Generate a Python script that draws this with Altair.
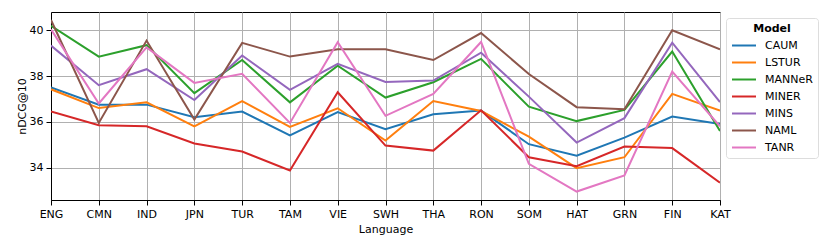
import altair as alt
import pandas as pd

languages = ["ENG", "CMN", "IND", "JPN", "TUR", "TAM", "VIE", "SWH", "THA", "RON", "SOM", "HAT", "GRN", "FIN", "KAT"]
models = ["CAUM", "LSTUR", "MANNeR", "MINER", "MINS", "NAML", "TANR"]
colors = ["#1f77b4", "#ff7f0e", "#2ca02c", "#d62728", "#9467bd", "#8c564b", "#e377c2"]

caum   = [37.50, 36.75, 36.75, 36.20, 36.45, 35.40, 36.42, 35.68, 36.33, 36.49, 35.02, 34.52, 35.31, 36.23, 35.90]
lstur  = [37.42, 36.60, 36.85, 35.80, 36.90, 35.78, 36.59, 35.18, 36.91, 36.47, 35.35, 33.97, 34.45, 37.22, 36.49]
manner = [40.20, 38.85, 39.35, 37.25, 38.70, 36.85, 38.45, 37.06, 37.73, 38.75, 36.66, 36.03, 36.52, 39.07, 35.60]
miner  = [36.45, 35.85, 35.80, 35.05, 34.70, 33.87, 37.29, 34.96, 34.74, 36.50, 34.45, 34.06, 34.92, 34.85, 33.34]
mins   = [39.33, 37.60, 38.30, 36.95, 38.90, 37.40, 38.53, 37.74, 37.80, 39.02, 37.10, 35.09, 36.16, 39.46, 36.86]
naml   = [40.45, 35.95, 39.55, 36.10, 39.45, 38.85, 39.17, 39.17, 38.70, 39.88, 38.09, 36.64, 36.55, 40.00, 39.17]
tanr   = [40.04, 36.80, 39.25, 37.70, 38.10, 35.95, 39.48, 36.26, 37.22, 39.49, 34.16, 32.95, 33.65, 38.19, 35.80]

series = [caum, lstur, manner, miner, mins, naml, tanr]
rows = []
for m, vals in zip(models, series):
    for lang, v in zip(languages, vals):
        rows.append({"Language": lang, "Model": m, "nDCG@10": v})
df = pd.DataFrame(rows)

font = "DejaVu Sans"

chart = alt.Chart(df).mark_line(strokeWidth=2, clip=True).encode(
    x=alt.X("Language:N", sort=languages,
            scale=alt.Scale(type="point", padding=0),
            axis=alt.Axis(title="Language", labelAngle=0, grid=True, tickSize=5,
                          titlePadding=4, labelPadding=3)),
    y=alt.Y("nDCG@10:Q", scale=alt.Scale(domain=[32.58, 40.8], nice=False, zero=False),
            axis=alt.Axis(title="nDCG@10", values=[34, 36, 38, 40], grid=True, tickSize=5,
                          titlePadding=2, labelPadding=3)),
    color=alt.Color("Model:N", scale=alt.Scale(domain=models, range=colors),
                    legend=alt.Legend(title="Model", orient="none", legendX=675, legendY=6,
                                      symbolType="M-1,0H2.2", symbolSize=225, symbolStrokeWidth=2,
                                      fillColor="white", strokeColor="#dddddd", cornerRadius=3,
                                      padding=5, rowPadding=3, titleAnchor="middle",
                                      titleFontWeight="bold", labelFontSize=11, titleFontSize=11,
                                      labelFont=font, titleFont=font, labelColor="black",
                                      titleColor="black", titlePadding=3, labelOffset=17)),
    order=alt.value(0),
).properties(
    width=669, height=188,
    autosize=alt.AutoSizeParams(type="none"),
    padding={"left": 43, "top": 4, "right": 100, "bottom": 41},
).configure_axis(
    labelFont=font, titleFont=font, labelFontSize=11, titleFontSize=11,
    labelColor="black", titleColor="black", titleFontWeight="normal",
    domainColor="black", tickColor="black", gridColor="#b0b0b0", gridWidth=1,
    domain=True,
).configure_view(
    stroke="black", strokeWidth=1,
)

chart.save("out.html", embed_options={"renderer": "svg", "actions": False})
